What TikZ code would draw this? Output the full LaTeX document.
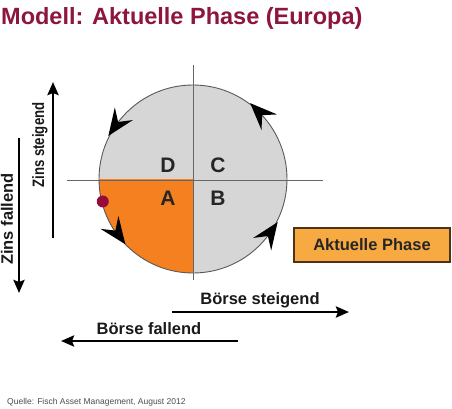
\documentclass[tikz,border=0pt]{standalone}
\usepackage{fontspec}
\setmainfont{Liberation Sans}
\usetikzlibrary{arrows.meta}
\definecolor{titlered}{RGB}{140,22,62}
\definecolor{quadorange}{RGB}{244,128,32}
\definecolor{boxorange}{RGB}{248,170,66}
\definecolor{boxbrown}{RGB}{80,50,20}
\definecolor{circgray}{RGB}{214,214,214}
\definecolor{dotred}{RGB}{150,10,60}
\tikzset{
  quadlbl/.style={font=\fontsize{21}{22}\selectfont\bfseries, text=black!85, inner sep=0pt},
  axislbl/.style={font=\fontsize{16.5}{19}\selectfont\bfseries, text=black!90, inner sep=0pt},
  bigarrow/.style={line width=2.8pt, -{Stealth[length=13pt,width=11pt,inset=2pt]}},
  axisline/.style={draw=black!60, line width=0.9pt},
  chevron/.pic={\fill[black] (0,0) -- (-27,11) -- (-17,0) -- (-27,-11) -- cycle;}
}
\begin{document}
\begin{tikzpicture}[x=1pt,y=-1pt]
\useasboundingbox (0,0) rectangle (452,409);
% title
\node[anchor=base west, inner sep=0pt, text=titlered, font=\fontsize{23.5}{28}\selectfont\bfseries] (title) at (1,25) {Modell: Aktuelle Phase (Europa)};
% circle
\begin{scope}[shift={(193,179)}, yscale=-1]
  \fill[circgray] (0,0) circle (94);
  \fill[quadorange] (0,0) -- (180:94) arc (180:270:94) -- cycle;
  \draw[black!65, line width=0.9pt] (0,0) circle (94);
  \pic[rotate=53+82] at (53:95) {chevron};
  \pic[rotate=153+82] at (153:95) {chevron};
  \pic[rotate=224+82] at (224:94) {chevron};
  \pic[rotate=333+82] at (333:95) {chevron};
  \fill[dotred] (194:93) circle (6);
  \coordinate (vtop) at (0,114);
  \coordinate (vbot) at (0,-101);
  \coordinate (hleft) at (-126,-1);
  \coordinate (hright) at (130,-1);
\end{scope}
\draw[axisline] (vtop) -- (vbot);
\draw[axisline] (hleft) -- (hright);
% quadrant letters
\node[quadlbl] (D) at (168,165) {D};
\node[quadlbl] (C) at (218,165) {C};
\node[quadlbl] (A) at (168,198) {A};
\node[quadlbl] (B) at (218,198) {B};
% vertical arrows
\coordinate (zsA) at (53,238);
\coordinate (zsB) at (53,82);
\draw[bigarrow] (zsA) -- (zsB);
\node[axislbl, rotate=90] (zinsst) at (40,145) {\scalebox{0.8}[1]{Zins steigend}};
\coordinate (zfA) at (19,138);
\coordinate (zfB) at (19,293);
\draw[bigarrow] (zfA) -- (zfB);
\node[axislbl, rotate=90] (zinsfa) at (7,219) {Zins fallend};
% horizontal arrows
\coordinate (bsA) at (172,312);
\coordinate (bsB) at (349,312);
\draw[bigarrow] (bsA) -- (bsB);
\node[axislbl] (boersest) at (260,300) {Börse steigend};
\coordinate (bfA) at (238,341);
\coordinate (bfB) at (61,341);
\draw[bigarrow] (bfA) -- (bfB);
\node[axislbl] (boersefa) at (149,329) {Börse fallend};
% legend box
\node[draw=boxbrown, fill=boxorange, line width=1.3pt, minimum width=156pt, minimum height=34pt, font=\fontsize{16.5}{19}\selectfont\bfseries, text=black!85] (phase) at (372,245) {Aktuelle Phase};
% source
\node[anchor=west, inner sep=0pt, text=black!70, font=\fontsize{8.5}{10}\selectfont] (src) at (7,402) {Quelle: Fisch Asset Management, August 2012};
\end{tikzpicture}
\end{document}
